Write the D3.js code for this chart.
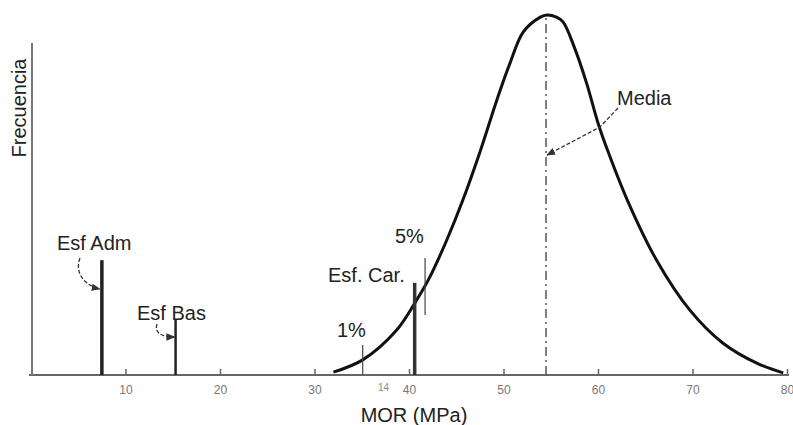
<!DOCTYPE html>
<html>
<head>
<meta charset="utf-8">
<script src="https://cdn.jsdelivr.net/npm/d3@7"></script>
<style>
  body { margin: 0; background: #fff; }
  text { font-family: "Liberation Sans", Arial, sans-serif; fill: #222; }
  .axis path, .axis line { stroke: #666; }
  .axis text { fill: #777; font-size: 12px; }
</style>
</head>
<body>
<div id="chart"></div>
<script>
// curve (MOR in MPa, relative frequency)
var curveMor  = [32.0, 35.1, 38.7, 40.8, 42.2, 44.0, 45.7, 47.5, 49.3, 50.7, 52.1, 53.9, 54.6, 55.6, 56.3, 57.5, 58.8, 60.0, 61.0, 63.1, 66.2, 69.7, 73.2, 76.8, 79.6];
var curveFreq = [0.8, 4.2, 12.5, 20.8, 27.2, 37.5, 48.6, 61.9, 76.4, 86.7, 95.3, 99.4, 100, 99.4, 98.1, 91.0, 81.0, 70.0, 62.5, 48.6, 31.9, 18.1, 8.9, 3.3, 0.6];

// vertical markers
var markerNames  = ["Esf Adm", "Esf Bas", "1%", "Esf. Car.", "5%", "Media"];
var markerMor    = [7.5, 15.3, 35.1, 40.6, 41.7, 54.5];
var markerTop    = [31.9, 15.3, 8.3, 25.6, 32.5, 100];
var markerBottom = [0, 0, 0, 0, 16.7, 0];

var xTicks = [10, 20, 30, 40, 50, 60, 70, 80];

var width = 793, height = 425;
var svg = d3.select("#chart").append("svg")
    .attr("width", width)
    .attr("height", height);

var x = d3.scaleLinear().domain([0, 80]).range([31, 787]);
var y = d3.scaleLinear().domain([0, 100]).range([375, 15]);

// arrow head
svg.append("defs").append("marker")
    .attr("id", "arrow")
    .attr("viewBox", "0 0 10 10")
    .attr("refX", 9).attr("refY", 5)
    .attr("markerWidth", 7).attr("markerHeight", 7)
    .attr("orient", "auto")
  .append("path")
    .attr("d", "M0,1 L10,5 L0,9 Z")
    .attr("fill", "#333");

// axes
svg.append("g")
    .attr("class", "axis")
    .attr("transform", "translate(0," + y(0) + ")")
    .call(d3.axisBottom(x).tickValues(xTicks).tickSize(-6).tickPadding(10).tickSizeOuter(0))
    .call(function(g) {
      g.select(".domain").attr("d", "M" + 29 + ",0H" + 789).attr("stroke-width", 2);
      g.selectAll(".tick line").attr("stroke-width", 1.5);
    });

svg.append("line")
    .attr("x1", 32).attr("x2", 32)
    .attr("y1", y(0)).attr("y2", 43)
    .attr("stroke", "#777").attr("stroke-width", 2);

// stray label in the scan
svg.append("text")
    .attr("x", x(37.3)).attr("y", 391)
    .attr("text-anchor", "middle")
    .style("font-size", "10px").style("fill", "#888")
    .text("14");

svg.append("text")
    .attr("x", 414).attr("y", 422)
    .attr("text-anchor", "middle")
    .style("font-size", "20px")
    .text("MOR (MPa)");

svg.append("text")
    .attr("transform", "translate(26,108) rotate(-90)")
    .attr("text-anchor", "middle")
    .style("font-size", "20px")
    .text("Frecuencia");

// distribution curve
var pts = curveMor.map(function(d, i) { return [d, curveFreq[i]]; });
var line = d3.line()
    .x(function(d) { return x(d[0]); })
    .y(function(d) { return y(d[1]); })
    .curve(d3.curveCatmullRom.alpha(0.5));

svg.append("path")
    .datum(pts)
    .attr("d", line)
    .attr("fill", "none")
    .attr("stroke", "#111")
    .attr("stroke-width", 3);

// markers
var mStyle = [
  {w: 3.5, dash: null, col: "#222"},
  {w: 2.5, dash: null, col: "#222"},
  {w: 1.2, dash: null, col: "#444"},
  {w: 3.5, dash: null, col: "#333"},
  {w: 1.2, dash: null, col: "#444"},
  {w: 1.5, dash: "9,4,2,4", col: "#555"}
];
markerNames.forEach(function(name, i) {
  svg.append("line")
    .attr("x1", x(markerMor[i])).attr("x2", x(markerMor[i]))
    .attr("y1", y(markerBottom[i])).attr("y2", y(markerTop[i]))
    .attr("stroke", mStyle[i].col)
    .attr("stroke-width", mStyle[i].w)
    .attr("stroke-dasharray", mStyle[i].dash);
});

// labels
var labelPos = [
  {x: 57, y: 250},
  {x: 137, y: 320},
  {x: 337, y: 337},
  {x: 328, y: 282},
  {x: 395, y: 243},
  {x: 617, y: 105}
];
markerNames.forEach(function(name, i) {
  svg.append("text")
    .attr("x", labelPos[i].x).attr("y", labelPos[i].y)
    .style("font-size", "20px")
    .text(name);
});

// leader arrows
var arrows = [
  "M80,258 C74,274 86,286 " + (x(markerMor[0]) - 2) + ",289",
  "M157,324 C154,333 162,337 " + (x(markerMor[1]) - 1) + ",337",
  "M618,108 L600,127 L" + (x(markerMor[5]) + 1) + ",155"
];
arrows.forEach(function(d) {
  svg.append("path")
    .attr("d", d)
    .attr("fill", "none")
    .attr("stroke", "#333")
    .attr("stroke-width", 1.3)
    .attr("stroke-dasharray", "4,2")
    .attr("marker-end", "url(#arrow)");
});
</script>
</body>
</html>
